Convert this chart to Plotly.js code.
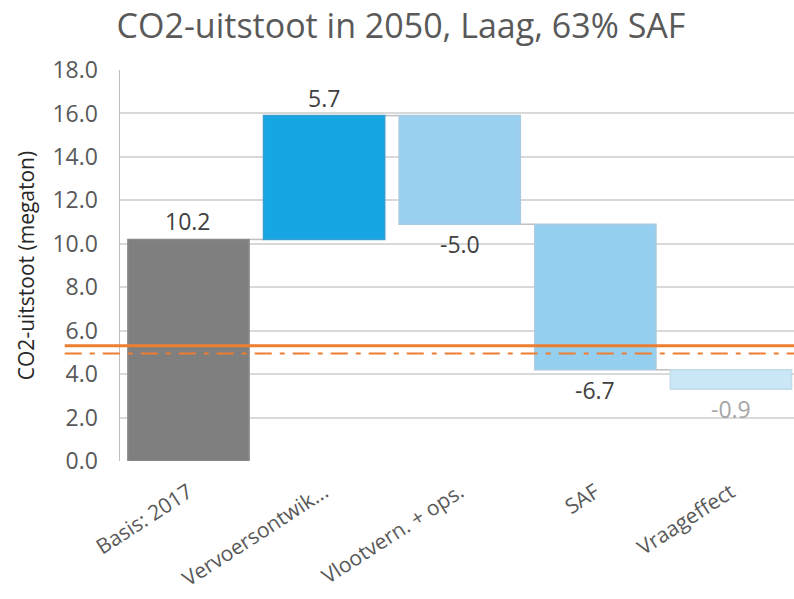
<!DOCTYPE html>
<html>
<head>
<meta charset="utf-8">
<script src="https://cdn.plot.ly/plotly-3.0.1.min.js"></script>
<style>html,body{margin:0;padding:0;background:#fff;overflow:hidden}#chart{width:794px;height:599px}</style>
</head>
<body>
<div id="chart"></div>
<script>
// Data
const categories = ['Basis: 2017', 'Vervoersontwik...', 'Vlootvern. + ops.', 'SAF', 'Vraageffect'];
const values = [10.2, 5.7, -5.0, -6.7, -0.9];
const barColors = ['#7f7f7f', '#17a6e4', '#9ad1f0', '#95cfef', '#c9e7f7'];
const barLineColors = ['#8a8a8a', '#3a9fd0', '#a8cbe2', '#a8cbe2', '#c4dbe8'];
const labelColors = ['#404040', '#404040', '#404040', '#404040', '#a6a6a6'];
const targetSolid = 5.3;
const targetDashDot = 4.95;
const yTicks = [0, 2, 4, 6, 8, 10, 12, 14, 16, 18];

// cumulative levels
const bases = [];
const ends = [];
let run = 0;
values.forEach((v, i) => {
  const b = i === 0 ? 0 : run;
  bases.push(b);
  run = b + v;
  ends.push(run);
});

const halfW = 0.447;
const shapes = [];
for (let i = 0; i < values.length - 1; i++) {
  shapes.push({type: 'line', xref: 'x', yref: 'y', x0: i + halfW, x1: i + 1 - halfW, y0: ends[i], y1: ends[i],
    line: {color: '#bfbfbf', width: 1.5}, layer: 'below'});
}
shapes.push({type: 'line', xref: 'paper', yref: 'y', x0: -0.082, x1: 1, y0: targetSolid, y1: targetSolid,
  line: {color: '#ED7D31', width: 3}});
shapes.push({type: 'line', xref: 'paper', yref: 'y', x0: -0.082, x1: 1, y0: targetDashDot, y1: targetDashDot,
  line: {color: '#ED7D31', width: 2, dash: '17px,8px,5px,8px'}});

const annotations = values.map((v, i) => {
  const top = Math.max(bases[i], ends[i]);
  const bottom = Math.min(bases[i], ends[i]);
  const up = v >= 0;
  return {
    x: categories[i], y: up ? top : bottom, xref: 'x', yref: 'y',
    text: v.toFixed(1), showarrow: false,
    yanchor: up ? 'bottom' : 'top', yshift: up ? 0 : -2,
    font: {family: 'Open Sans', size: 23, color: labelColors[i]}
  };
});

const trace = {
  type: 'bar', x: categories, y: values, base: bases,
  marker: {color: barColors, line: {color: barLineColors, width: 1.5}},
  hoverinfo: 'none'
};

const layout = {
  width: 794, height: 599,
  margin: {l: 120, r: 0, t: 70, b: 137.5},
  paper_bgcolor: '#ffffff', plot_bgcolor: '#ffffff',
  showlegend: false,
  bargap: 0.106,
  title: {text: 'CO2-uitstoot in 2050, Laag, 63% SAF', x: 0.505, xanchor: 'center', y: 0.956, yanchor: 'middle', yref: 'container',
    font: {family: 'Open Sans', size: 34, color: '#595959'}},
  xaxis: {type: 'category', range: [-0.505, 4.465], tickangle: -33, showgrid: false, zeroline: false, showline: false,
    tickfont: {family: 'Open Sans', size: 21, color: '#595959'}, ticks: '', ticklabelstandoff: 14},
  yaxis: {range: [0, 18], tickvals: yTicks, tickformat: '.1f', showgrid: true, gridcolor: '#d9d9d9', gridwidth: 2,
    zeroline: false, showline: true, linecolor: '#bfbfbf', linewidth: 1.5, ticks: '', ticklabelstandoff: 16,
    tickfont: {family: 'Open Sans', size: 23, color: '#595959'},
    title: {text: 'CO2-uitstoot (megaton)', standoff: 12, font: {family: 'Open Sans', size: 21, color: '#262626'}}},
  shapes: shapes,
  annotations: annotations
};

Plotly.newPlot('chart', [trace], layout, {displayModeBar: false, staticPlot: true});
</script>
</body>
</html>
